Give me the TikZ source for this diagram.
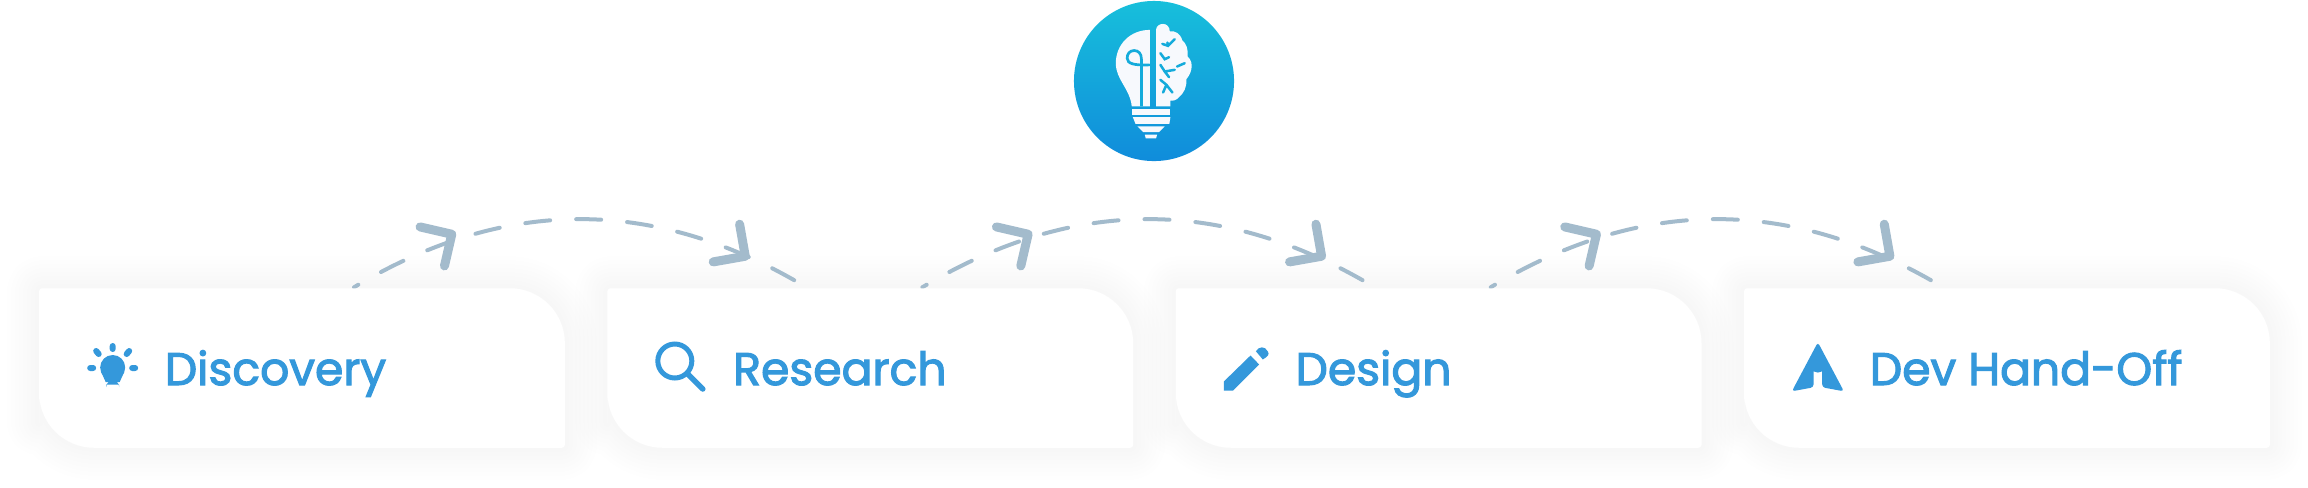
\documentclass[tikz,border=0pt]{standalone}
\usepackage{fontspec}
\setmainfont{Poppins}[FakeBold=2.4]
\usetikzlibrary{positioning,backgrounds}
\definecolor{cardblue}{HTML}{3498DB}
\definecolor{flowgrey}{HTML}{A3BBCC}
\definecolor{logotop}{HTML}{17BFDB}
\definecolor{logobottom}{HTML}{108CDB}
\definecolor{bulbwhite}{HTML}{F7F9FD}
\newcommand{\cardpath}[1]{(#1.west) [rounded corners=.03cm] -- (#1.north west) [rounded corners=.55cm] -- (#1.north east) [rounded corners=.03cm] -- (#1.south east) [rounded corners=.55cm] -- (#1.south west) -- cycle}
\tikzset{
  chevron/.pic={\draw[flowgrey,solid,line width=.09cm,line cap=round,line join=round] (-23,-23) -- (0,0) -- (-23,23);},
  bulbicon/.pic={
    \fill[cardblue] (0,3.5) circle (12.5);
    \fill[cardblue] (-11.5,8) -- (11.5,8) -- (7,18) -- (-7,18) -- cycle;
    \fill[cardblue] (-6.5,20.5) -- (6.5,20.5) -- (6.5,23) arc (0:-180:6.5) -- cycle;
    \draw[cardblue,line width=.06cm,line cap=round] (0,-18) -- (0,-15) (-16.5,-13) -- (-14,-10) (16.5,-13) -- (14,-10) (-22.5,4) -- (-19.5,4) (22.5,4) -- (19.5,4);},
  lensicon/.pic={
    \draw[cardblue,line width=.05cm] (0,0) circle (17);
    \draw[cardblue,line width=.055cm,line cap=round] (13,13) -- (28,28);},
  penicon/.pic={
    \fill[cardblue] (0,36) -- (26.7,10) -- (35.3,19) -- (9.3,45) -- (0,45) -- cycle;
    \fill[cardblue] (32,5.7) .. controls (35,1) and (41,0) .. (44,6) .. controls (46,9) and (44,11) .. (39,14) -- cycle;},
  navicon/.pic={
    \fill[cardblue,rounded corners=.03cm] (0,0) -- (26,49) -- (4.3,45) -- (4.3,26) arc (0:180:4.3) -- (-4.3,45) -- (-26,49) -- cycle;},
  logoicon/.pic={
    \begin{scope}[shift={(-1.14cm,.81cm)},x=.003333cm,y=-.003333cm]
      % Lamp and brain
      \fill[bulbwhite] (330,90) .. controls (270,90) and (228,135) .. (228,190) .. controls (228,240) and (270,265) .. (276,320) -- (330,320) -- cycle;
      \fill[bulbwhite] (349,320) -- (349,90) .. controls (349,78) and (360,72) .. (370,72) .. controls (382,72) and (390,82) .. (390,94) .. controls (405,92) and (422,100) .. (428,122) .. controls (440,130) and (446,150) .. (444,170) .. controls (455,180) and (458,195) .. (455,208) .. controls (452,222) and (445,232) .. (440,238) .. controls (442,262) and (432,280) .. (418,292) .. controls (410,302) and (398,304) .. (392,302) -- (392,320) -- cycle;
      \fill[bulbwhite] (276,327) rectangle (392,345);
      \fill[bulbwhite] (279,352) -- (392,352) -- (389,372) -- (287,372) -- cycle;
      \fill[bulbwhite] (293,380) -- (375,380) -- (358,397) -- (310,397) -- cycle;
      \fill[bulbwhite] (315,405) -- (352,405) -- (349,416) -- (318,416) -- cycle;
      \draw[logotop!60!logobottom,line width=.027cm] (305,320) -- (305,178) .. controls (305,160) and (295,152) .. (283,152) .. controls (270,152) and (262,162) .. (262,175) .. controls (262,192) and (285,197) .. (330,195);
      \draw[logotop!60!logobottom,line width=.025cm,line cap=round]
        (368,132) -- (385,138) -- (405,118) (385,138) -- (383,128)
        (362,160) -- (375,178) -- (388,172)
        (362,195) -- (375,215) -- (388,232) (375,215) -- (405,210) (412,200) -- (435,190)
        (362,240) -- (380,255) -- (370,278) (380,255) -- (398,278);
    \end{scope}}
}
\begin{document}
\begin{tikzpicture}[x=.01cm,y=-.01cm,node distance=5.68cm,
            card/.style={minimum width=5.24cm,minimum height=1.58cm,inner sep=0pt},
            steplabel/.style={inner sep=0pt,text=cardblue,anchor=base west,font=\fontsize{13}{16}\selectfont},
            logo/.style={circle,minimum size=1.6cm,inner sep=0pt,top color=logotop,bottom color=logobottom},
            flow/.style={flowgrey,line width=.04cm,line cap=round,dash pattern=on .25cm off .26cm,dash phase=.2cm}]
        \useasboundingbox (0,0) rectangle (2308,487);

        % Define vertices
        \node[logo] (logo) at (1154,81) {};
        \node[card] (discovery) at (302,368) {};
        \node[card] (research) [right of=discovery] {};
        \node[card] (design) [right of=research] {};
        \node[card] (handoff) [right of=design] {};

        % Labels
        \node[steplabel] (discoverytext) [below right=.17cm and 1.25cm of discovery.west,anchor=base west] {Discovery};
        \node[steplabel] (researchtext) [below right=.17cm and 1.25cm of research.west,anchor=base west] {Research};
        \node[steplabel] (designtext) [below right=.17cm and 1.19cm of design.west,anchor=base west] {Design};
        \node[steplabel] (handofftext) [below right=.17cm and 1.25cm of handoff.west,anchor=base west] {Dev Hand-Off};

        % Icons
        \pic at (logo.center) {logoicon};
        \pic at ([xshift=.735cm,yshift=.04cm]discovery.west) {bulbicon};
        \pic at ([xshift=.673cm,yshift=.07cm]research.west) {lensicon};
        \pic at ([xshift=.48cm,yshift=.225cm]design.west) {penicon};
        \pic at ([xshift=.737cm,yshift=.257cm]handoff.west) {navicon};

        % Draw shadows, edges and cards
        \begin{pgfonlayer}{background}
            \foreach \card in {discovery,research,design,handoff}
                \foreach \w in {.08,.16,.24,.32,.4,.48,.56,.64}
                    \draw[black,opacity=.004,line width=\w cm,line join=round,yshift=-.05cm] \cardpath{\card};
            \foreach \from/\to/\dx in {discovery/research/0,research/design/.08,design/handoff/.08}
                \draw[flow,xshift=\dx cm] ([xshift=.52cm,yshift=.01cm]\from.north) to[bend left=31] ([xshift=-.64cm,yshift=.01cm]\to.north);
            \foreach \card in {discovery,research,design,handoff}
                \fill[white] \cardpath{\card};
        \end{pgfonlayer}

        % Arrow marks on the edges
        \foreach \from/\to/\dx in {discovery/research/0,research/design/.08,design/handoff/.08}{
            \pic[rotate=32] at ([xshift=1.497cm+\dx cm,yshift=.54cm]\from.north) {chevron};
            \pic[rotate=-35] at ([xshift=-1.25cm+\dx cm,yshift=.32cm]\to.north) {chevron};
        }

        \end{tikzpicture}
\end{document}
